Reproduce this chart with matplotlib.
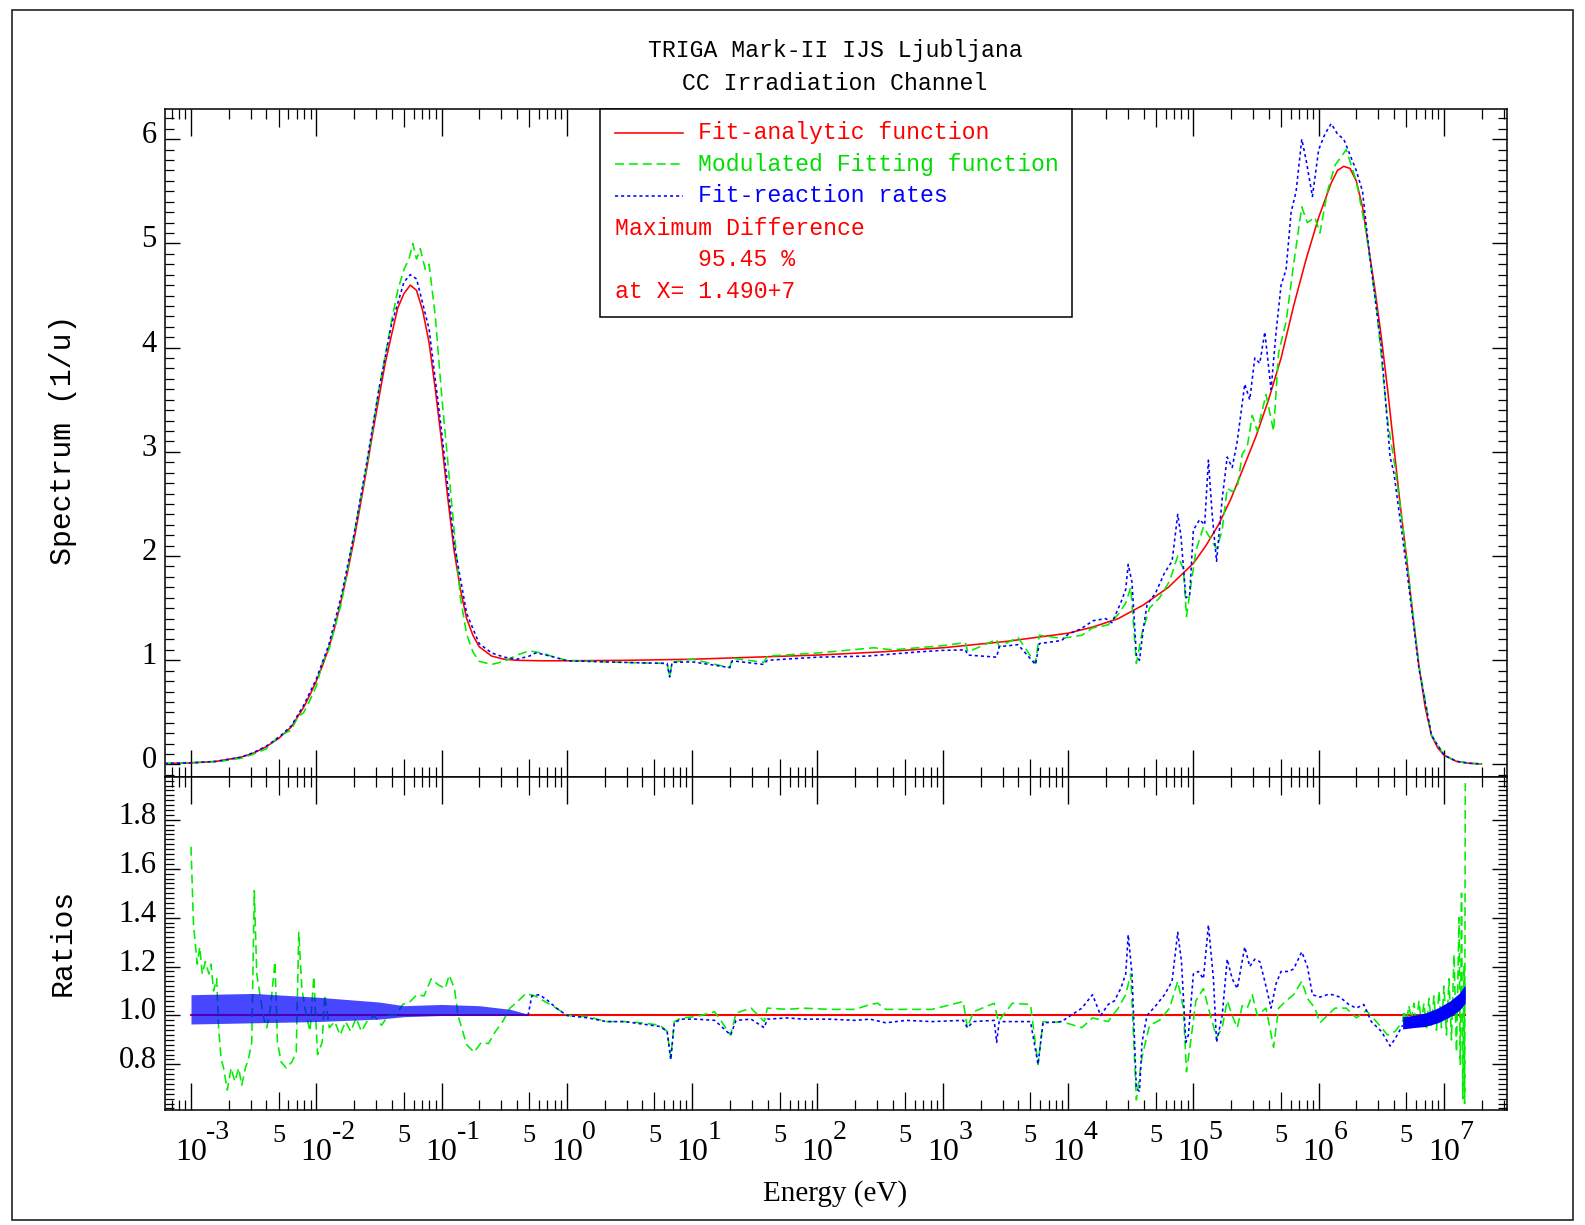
import numpy as np
import matplotlib
matplotlib.use("Agg")
import matplotlib.pyplot as plt
from matplotlib.ticker import FixedLocator, FixedFormatter, NullFormatter
from matplotlib.transforms import ScaledTranslation
from matplotlib.lines import Line2D
from matplotlib.patches import Rectangle

plt.rcParams['lines.scale_dashes'] = False

# ---------------- data (x given as log10 of energy in eV) ----------------
red_top_logE = [-3.21, -3.0, -2.8, -2.6, -2.5, -2.4, -2.3, -2.2, -2.1, -2.05,
                -2.0, -1.95, -1.9, -1.85, -1.8, -1.75, -1.7, -1.65, -1.6, -1.55,
                -1.5, -1.45, -1.4, -1.35, -1.3, -1.25, -1.2, -1.15, -1.1, -1.05,
                -1.0, -0.95, -0.9, -0.85, -0.8, -0.75, -0.7, -0.6, -0.5, -0.4,
                -0.2, 0.0, 0.5, 1.0, 1.5, 2.0, 2.5, 3.0, 3.5, 4.0,
                4.2, 4.4, 4.6, 4.8, 5.0, 5.1, 5.2, 5.3, 5.4, 5.5,
                5.6, 5.7, 5.8, 5.9, 6.0, 6.1, 6.15, 6.2, 6.25, 6.3,
                6.35, 6.4, 6.45, 6.5, 6.55, 6.6, 6.65, 6.7, 6.75, 6.8,
                6.85, 6.9, 6.95, 7.0, 7.1, 7.2, 7.3]
red_top = [0.01, 0.015, 0.03, 0.07, 0.11, 0.17, 0.25, 0.36, 0.55, 0.67,
           0.80, 0.95, 1.12, 1.33, 1.58, 1.85, 2.15, 2.48, 2.82, 3.18,
           3.52, 3.85, 4.12, 4.38, 4.52, 4.60, 4.55, 4.35, 4.05, 3.60,
           3.10, 2.55, 2.05, 1.68, 1.40, 1.24, 1.13, 1.04, 1.01, 1.0,
           0.995, 0.995, 1.0, 1.01, 1.03, 1.05, 1.08, 1.12, 1.18, 1.26,
           1.32, 1.40, 1.53, 1.70, 1.93, 2.10, 2.30, 2.55, 2.85, 3.15,
           3.50, 3.90, 4.40, 4.85, 5.25, 5.58, 5.70, 5.74, 5.72, 5.60,
           5.35, 4.95, 4.55, 4.10, 3.60, 3.05, 2.50, 2.00, 1.45, 0.95,
           0.55, 0.28, 0.16, 0.09, 0.03, 0.012, 0.005]

green_top_logE = [-3.21, -3.0, -2.8, -2.6, -2.5, -2.4, -2.3, -2.2, -2.15, -2.1,
                  -2.05, -2.0, -1.95, -1.9, -1.8, -1.7, -1.6, -1.5, -1.4, -1.35,
                  -1.3, -1.26, -1.23, -1.2, -1.17, -1.13, -1.1, -1.05, -1.0, -0.95,
                  -0.9, -0.85, -0.8, -0.75, -0.7, -0.6, -0.5, -0.4, -0.3, -0.2,
                  -0.1, 0.0, 0.3, 0.6, 0.8, 0.82, 0.84, 1.0, 1.3, 1.32,
                  1.57, 1.6, 2.0, 2.45, 2.6, 3.0, 3.18, 3.2, 3.43, 3.45,
                  3.6, 3.74, 3.77, 3.95, 4.11, 4.195, 4.32, 4.40, 4.46, 4.50,
                  4.545, 4.59, 4.65, 4.73, 4.81, 4.875, 4.92, 4.945, 4.98, 5.02,
                  5.08, 5.12, 5.185, 5.23, 5.27, 5.31, 5.35, 5.39, 5.43, 5.47,
                  5.51, 5.58, 5.64, 5.68, 5.74, 5.80, 5.865, 5.91, 5.97, 6.01,
                  6.07, 6.13, 6.22, 6.30, 6.38, 6.46, 6.55, 6.61, 6.67, 6.8,
                  6.9, 7.0, 7.1, 7.2, 7.3]
green_top = [0.01, 0.02, 0.025, 0.06, 0.10, 0.15, 0.27, 0.33, 0.45, 0.50,
             0.62, 0.75, 0.98, 1.10, 1.55, 2.20, 2.85, 3.60, 4.25, 4.55,
             4.75, 4.85, 5.00, 4.85, 4.95, 4.75, 4.80, 4.30, 3.55, 2.90,
             2.25, 1.60, 1.25, 1.08, 0.99, 0.96, 0.99, 1.05, 1.09, 1.07,
             1.03, 1.00, 0.985, 0.975, 0.97, 0.84, 0.98, 1.01, 0.93, 1.02,
             0.98, 1.04, 1.07, 1.12, 1.10, 1.14, 1.17, 1.08, 1.20, 1.13,
             1.22, 0.97, 1.24, 1.21, 1.24, 1.31, 1.34, 1.44, 1.55, 1.70,
             0.97, 1.26, 1.50, 1.60, 1.76, 2.00, 1.88, 1.42, 1.72, 2.05,
             2.28, 2.20, 2.07, 2.25, 2.65, 2.62, 2.65, 2.98, 3.05, 3.35,
             3.20, 3.55, 3.20, 3.95, 4.25, 4.80, 5.35, 5.20, 5.25, 5.10,
             5.50, 5.75, 5.90, 5.60, 5.10, 4.40, 3.30, 2.85, 2.30, 0.95,
             0.28, 0.09, 0.03, 0.012, 0.005]

blue_top_logE = [-3.21, -3.0, -2.8, -2.6, -2.5, -2.4, -2.3, -2.2, -2.1, -2.0,
                 -1.9, -1.8, -1.7, -1.6, -1.5, -1.4, -1.3, -1.25, -1.2, -1.1,
                 -1.0, -0.9, -0.8, -0.7, -0.6, -0.5, -0.4, -0.3, -0.25, -0.2,
                 -0.1, 0.0, 0.3, 0.6, 0.8, 0.82, 0.84, 1.0, 1.3, 1.32,
                 1.57, 1.6, 2.0, 2.4, 2.8, 3.0, 3.18, 3.2, 3.43, 3.45,
                 3.6, 3.74, 3.77, 3.95, 4.0, 4.1, 4.2, 4.3, 4.35, 4.42,
                 4.46, 4.48, 4.51, 4.545, 4.57, 4.6, 4.63, 4.7, 4.77, 4.83,
                 4.875, 4.9, 4.94, 4.97, 5.0, 5.05, 5.09, 5.12, 5.15, 5.185,
                 5.23, 5.27, 5.31, 5.35, 5.41, 5.45, 5.49, 5.53, 5.57, 5.62,
                 5.66, 5.70, 5.74, 5.78, 5.82, 5.865, 5.9, 5.95, 6.0, 6.05,
                 6.1, 6.15, 6.2, 6.25, 6.3, 6.35, 6.4, 6.5, 6.57, 6.6,
                 6.7, 6.8, 6.9, 7.0, 7.1, 7.2, 7.3]
blue_top = [0.01, 0.015, 0.03, 0.07, 0.115, 0.175, 0.26, 0.37, 0.57, 0.82,
            1.15, 1.62, 2.20, 2.88, 3.60, 4.22, 4.63, 4.70, 4.66, 4.18,
            3.20, 2.12, 1.45, 1.16, 1.07, 1.03, 1.01, 1.04, 1.07, 1.06,
            1.03, 0.995, 0.985, 0.975, 0.97, 0.84, 0.98, 0.985, 0.93, 0.995,
            0.96, 1.00, 1.03, 1.04, 1.08, 1.095, 1.10, 1.05, 1.03, 1.13,
            1.15, 0.96, 1.16, 1.19, 1.25, 1.30, 1.38, 1.40, 1.36, 1.55,
            1.68, 1.92, 1.75, 1.05, 1.00, 1.30, 1.53, 1.65, 1.84, 1.95,
            2.40, 2.20, 1.60, 1.62, 2.25, 2.35, 2.30, 2.92, 2.40, 1.95,
            2.55, 2.95, 2.85, 3.10, 3.65, 3.50, 3.90, 3.85, 4.15, 3.60,
            4.15, 4.60, 4.75, 5.30, 5.50, 6.00, 5.80, 5.45, 5.90, 6.05,
            6.15, 6.05, 6.00, 5.85, 5.70, 5.50, 4.95, 4.00, 2.95, 2.80,
            1.90, 0.92, 0.28, 0.09, 0.03, 0.012, 0.005]

red_ratio_logE = [-3.0, 7.17]
red_ratio = [1.0, 1.0]

green_ratio_logE = [-3.0, -2.98, -2.95, -2.93, -2.91, -2.886, -2.857, -2.84, -2.82, -2.795,
                    -2.78, -2.76, -2.74, -2.71, -2.68, -2.65, -2.62, -2.595, -2.566, -2.54,
                    -2.515, -2.495, -2.475, -2.45, -2.42, -2.395, -2.366, -2.33, -2.31, -2.28,
                    -2.24, -2.195, -2.16, -2.14, -2.115, -2.08, -2.05, -2.02, -1.99, -1.953,
                    -1.933, -1.896, -1.853, -1.81, -1.767, -1.725, -1.682, -1.64, -1.596, -1.54,
                    -1.48, -1.425, -1.37, -1.31, -1.254, -1.197, -1.14, -1.083, -1.026, -0.97,
                    -0.94, -0.897, -0.869, -0.84, -0.80, -0.74, -0.683, -0.626, -0.57, -0.512,
                    -0.455, -0.398, -0.327, -0.255, -0.17, -0.084, 0.0, 0.17, 0.315, 0.458,
                    0.60, 0.743, 0.80, 0.829, 0.857, 0.914, 1.03, 1.18, 1.307, 1.35,
                    1.47, 1.575, 1.6, 1.76, 1.885, 2.09, 2.30, 2.42, 2.48, 2.545,
                    2.71, 2.915, 3.163, 3.196, 3.245, 3.41, 3.444, 3.555, 3.70, 3.76,
                    3.80, 3.865, 3.947, 4.11, 4.195, 4.32, 4.40, 4.46, 4.50, 4.545,
                    4.59, 4.65, 4.73, 4.81, 4.875, 4.92, 4.945, 4.98, 5.02, 5.08,
                    5.12, 5.185, 5.23, 5.27, 5.31, 5.35, 5.39, 5.43, 5.47, 5.51,
                    5.58, 5.64, 5.68, 5.74, 5.80, 5.865, 5.91, 5.97, 6.01, 6.07,
                    6.13, 6.22, 6.30, 6.38, 6.46, 6.55, 6.61, 6.67, 6.68, 6.70,
                    6.72, 6.74, 6.76, 6.78, 6.80, 6.82, 6.84, 6.86, 6.88, 6.90,
                    6.92, 6.94, 6.96, 6.98, 7.00, 7.02, 7.04, 7.06, 7.08, 7.10,
                    7.12, 7.13, 7.14, 7.15, 7.16, 7.165, 7.17]
green_ratio = [1.69, 1.37, 1.21, 1.28, 1.17, 1.22, 1.17, 1.21, 1.10, 1.15,
               0.95, 0.825, 0.785, 0.695, 0.785, 0.73, 0.785, 0.715, 0.785, 0.825,
               0.89, 1.51, 1.17, 1.085, 0.99, 0.95, 1.03, 1.22, 0.89, 0.81,
               0.785, 0.81, 0.85, 1.34, 1.11, 1.0, 0.935, 1.16, 0.84, 0.89,
               1.085, 0.95, 0.975, 0.92, 0.975, 0.935, 0.99, 0.935, 0.975, 1.0,
               0.96, 1.0, 1.0, 1.045, 1.055, 1.085, 1.08, 1.15, 1.125, 1.11,
               1.165, 1.11, 1.0, 0.95, 0.88, 0.85, 0.89, 0.885, 0.935, 0.975,
               1.03, 1.055, 1.09, 1.08, 1.055, 1.03, 1.0, 0.995, 0.975, 0.975,
               0.97, 0.96, 0.935, 0.825, 0.975, 0.99, 0.995, 1.015, 0.92, 1.01,
               1.03, 0.975, 1.03, 1.025, 1.03, 1.025, 1.025, 1.045, 1.05, 1.025,
               1.025, 1.025, 1.057, 0.95, 1.015, 1.05, 0.975, 1.05, 1.045, 0.80,
               0.975, 0.97, 0.975, 0.95, 0.99, 0.975, 1.03, 1.085, 1.17, 0.655,
               0.83, 0.96, 0.98, 1.03, 1.14, 1.03, 0.77, 0.90, 1.06, 1.11,
               1.03, 0.91, 0.95, 1.06, 1.0, 0.95, 1.04, 1.03, 1.085, 1.0,
               1.03, 0.87, 1.03, 1.06, 1.085, 1.14, 1.07, 1.03, 0.97, 1.0,
               1.03, 1.03, 0.99, 1.02, 0.975, 0.92, 0.935, 0.975, 1.02, 0.97,
               1.04, 0.98, 1.05, 0.96, 1.06, 0.97, 1.05, 0.95, 1.07, 0.96,
               1.08, 0.94, 1.10, 0.95, 1.12, 0.92, 1.15, 0.90, 1.25, 0.85,
               1.40, 0.80, 1.50, 0.66, 1.20, 0.64, 1.95]

blue_ratio_logE = [-0.31, -0.28, -0.22, -0.15, -0.084, 0.0, 0.17, 0.315, 0.458, 0.60,
                   0.743, 0.80, 0.829, 0.857, 0.914, 1.03, 1.18, 1.307, 1.35, 1.47,
                   1.575, 1.6, 1.76, 1.885, 2.09, 2.30, 2.42, 2.545, 2.71, 2.915,
                   3.163, 3.196, 3.245, 3.41, 3.43, 3.45, 3.555, 3.70, 3.76, 3.80,
                   3.947, 4.11, 4.195, 4.26, 4.32, 4.37, 4.42, 4.46, 4.48, 4.51,
                   4.545, 4.57, 4.59, 4.63, 4.70, 4.77, 4.83, 4.875, 4.905, 4.94,
                   4.96, 5.0, 5.04, 5.08, 5.12, 5.16, 5.185, 5.23, 5.27, 5.31,
                   5.35, 5.41, 5.45, 5.49, 5.53, 5.57, 5.62, 5.66, 5.70, 5.76,
                   5.80, 5.865, 5.91, 5.95, 6.01, 6.07, 6.11, 6.17, 6.24, 6.30,
                   6.36, 6.42, 6.50, 6.57, 6.61, 6.67]
blue_ratio = [1.0, 1.08, 1.085, 1.06, 1.03, 1.0, 0.99, 0.975, 0.975, 0.965,
              0.955, 0.935, 0.82, 0.97, 0.985, 0.985, 0.98, 0.92, 0.98, 0.985,
              0.95, 0.985, 0.99, 0.985, 0.985, 0.98, 0.985, 0.97, 0.98, 0.975,
              0.98, 0.95, 0.975, 0.98, 0.89, 0.975, 0.975, 0.975, 0.80, 0.97,
              0.975, 1.03, 1.085, 1.0, 1.045, 1.06, 1.11, 1.17, 1.33, 1.17,
              0.70, 0.69, 0.89, 1.0, 1.04, 1.085, 1.14, 1.34, 1.22, 0.89,
              0.92, 1.17, 1.18, 1.15, 1.37, 1.15, 0.89, 1.0, 1.23, 1.15,
              1.11, 1.28, 1.20, 1.23, 1.22, 1.14, 1.03, 1.13, 1.18, 1.18,
              1.19, 1.26, 1.20, 1.085, 1.075, 1.085, 1.085, 1.075, 1.045, 1.03,
              1.045, 0.975, 0.935, 0.875, 0.905, 0.96]

# envelopes of the dense blue oscillation bands in the ratio panel
blue_band_low_logE = [-3.0, -2.5, -2.0, -1.5, -1.3, -1.0, -0.7, -0.45, -0.31]
blue_band_low_lo = [0.965, 0.97, 0.975, 0.985, 0.995, 1.0, 1.0, 1.0, 1.0]
blue_band_low_hi = [1.085, 1.09, 1.075, 1.055, 1.04, 1.045, 1.04, 1.025, 1.005]
blue_band_high_logE = [6.67, 6.75, 6.85, 6.95, 7.05, 7.12, 7.17]
blue_band_high_lo = [0.945, 0.95, 0.955, 0.97, 0.995, 1.02, 1.05]
blue_band_high_hi = [0.995, 1.0, 1.01, 1.03, 1.06, 1.09, 1.125]

decade_exponents = [-3, -2, -1, 0, 1, 2, 3, 4, 5, 6, 7]
legend_labels = ["Fit-analytic function", "Modulated Fitting function", "Fit-reaction rates"]
legend_notes = ["Maximum Difference", "95.45 %", "at X= 1.490+7"]
title_lines = ["TRIGA Mark-II IJS Ljubljana", "CC Irradiation Channel"]

# ---------------- figure ----------------
W, H = 1585, 1225
fig = plt.figure(figsize=(W / 100, H / 100), dpi=100, facecolor='white')


def fx(px):
    return px / W


def fy(py):
    return 1 - py / H


L, R, T, MID, B = 165, 1507, 109, 777, 1110
ax1 = fig.add_axes([fx(L), fy(MID), fx(R) - fx(L), fy(T) - fy(MID)])
ax2 = fig.add_axes([fx(L), fy(B), fx(R) - fx(L), fy(MID) - fy(B)])

RED, GREEN, BLUE = '#ff0000', '#00ee00', '#0000ff'
GDASH = (0, (6.5, 3.5))
BDOT = (0, (2.2, 2.2))
LW = 1.15

E = lambda lg: 10.0 ** np.asarray(lg, dtype=float)

ax1.plot(E(red_top_logE), red_top, color=RED, lw=LW, zorder=3)
ax1.plot(E(green_top_logE), green_top, color=GREEN, lw=LW, linestyle=GDASH, zorder=4)
ax1.plot(E(blue_top_logE), blue_top, color=BLUE, lw=LW, linestyle=BDOT, zorder=5)

ax2.plot(E(red_ratio_logE), red_ratio, color=RED, lw=1.5, zorder=3)
ax2.plot(E(green_ratio_logE), green_ratio, color=GREEN, lw=LW, linestyle=GDASH, zorder=4)
ax2.fill_between(E(blue_band_low_logE), blue_band_low_lo, blue_band_low_hi,
                 color=BLUE, alpha=0.72, lw=0, zorder=5)
ax2.plot(E(blue_ratio_logE), blue_ratio, color=BLUE, lw=LW, linestyle=BDOT, zorder=5)
ax2.fill_between(E(blue_band_high_logE), blue_band_high_lo, blue_band_high_hi,
                 color=BLUE, lw=0, zorder=5)

# ---------------- axes styling ----------------
xmin, xmax = 10 ** -3.2075, 10 ** 7.503
decades = [10.0 ** k for k in decade_exponents]
minors = [m * 10.0 ** k for k in range(-4, 8) for m in range(2, 10)
          if xmin <= m * 10.0 ** k <= xmax]
minor_labels = ['5' if abs(v / 10 ** np.floor(np.log10(v)) - 5) < 1e-6 else '' for v in minors]

for ax in (ax1, ax2):
    ax.set_xscale('log')
    ax.set_xlim(xmin, xmax)
    ax.xaxis.set_major_locator(FixedLocator(decades))
    ax.xaxis.set_minor_locator(FixedLocator(minors))
    for s in ax.spines.values():
        s.set_linewidth(1.1)
    ax.set_facecolor('white')

ax1.set_ylim(-0.12, 6.29)
ax1.yaxis.set_major_locator(FixedLocator(list(range(0, 7))))
ax1.yaxis.set_minor_locator(FixedLocator([i / 10 for i in range(-1, 63)]))
ax1.yaxis.set_major_formatter(FixedFormatter([str(i) for i in range(0, 7)]))
ax1.xaxis.set_major_formatter(NullFormatter())
ax1.xaxis.set_minor_formatter(NullFormatter())

ax2.set_ylim(0.6135, 1.975)
r_major = [0.8, 1.0, 1.2, 1.4, 1.6, 1.8]
ax2.yaxis.set_major_locator(FixedLocator(r_major))
ax2.yaxis.set_minor_locator(FixedLocator([0.62 + 0.02 * i for i in range(68)]))
ax2.yaxis.set_major_formatter(FixedFormatter(['%.1f' % v for v in r_major]))
ax2.xaxis.set_major_formatter(FixedFormatter(['10'] * len(decades)))
ax2.xaxis.set_minor_formatter(FixedFormatter(minor_labels))

TICKFONT = 'Liberation Serif'
for ax in (ax1, ax2):
    ax.tick_params(axis='x', which='major', direction='in', length=19.5, width=1.0,
                   top=True, bottom=True, labelsize=23, labelfontfamily=TICKFONT, pad=20)
    ax.tick_params(axis='x', which='minor', direction='in', length=7.2, width=0.9,
                   top=True, bottom=True, labelsize=19, labelfontfamily=TICKFONT, pad=10.5)
    ax.tick_params(axis='y', which='major', direction='in', length=11, width=1.0,
                   left=True, right=True, labelsize=22, labelfontfamily=TICKFONT, pad=6)
    ax.tick_params(axis='y', which='minor', direction='in', length=6.5, width=0.9,
                   left=True, right=True)

# longer ticks at 5 x 10^n
for ax in (ax1, ax2):
    locs = ax.xaxis.get_minorticklocs()
    ticks = ax.xaxis.get_minor_ticks(len(locs))
    for loc, t in zip(locs, ticks):
        if abs(loc / 10 ** np.floor(np.log10(loc)) - 5) < 1e-6:
            t.tick1line.set_markersize(13)
            t.tick2line.set_markersize(13)

# numbers sitting a bit above their y tick
for ax in (ax1, ax2):
    for lab in ax.get_yticklabels():
        lab.set_transform(lab.get_transform() + ScaledTranslation(0, 0.07, fig.dpi_scale_trans))

# exponents of the decade labels, full-size as in the original plot
for k, d in zip(decade_exponents, decades):
    ax2.annotate(str(k), xy=(d, 0), xycoords=('data', 'axes fraction'),
                 xytext=(11, -7.5), textcoords='offset points', ha='left', va='top',
                 family=TICKFONT, fontsize=20, annotation_clip=False)

# ---------------- texts ----------------
MONO = 'Liberation Mono'
fig.text(fx(835), fy(51), title_lines[0], ha='center', va='center', family=MONO, fontsize=16.7)
fig.text(fx(835), fy(83), title_lines[1], ha='center', va='center', family=MONO, fontsize=16.7)
fig.text(fx(63), fy(440), "Spectrum (1/u)", rotation=90, ha='center', va='center', family=MONO, fontsize=21.5)
fig.text(fx(63), fy(942), "Ratios", rotation=90, ha='center', va='center', family=MONO, fontsize=21.5)
fig.text(fx(835), fy(1194), "Energy (eV)", ha='center', va='center', family=TICKFONT, fontsize=21)

# legend box
fig.patches.append(Rectangle((fx(600), fy(317)), fx(1072) - fx(600), fy(109) - fy(317),
                             transform=fig.transFigure, fill=True, facecolor='white',
                             edgecolor='black', lw=1.1, zorder=10))
rows = [132.5, 164, 196]
styles = [dict(color=RED, linestyle='-'), dict(color=GREEN, linestyle=GDASH),
          dict(color=BLUE, linestyle=BDOT)]
text_cols = [RED, '#00dd00', BLUE]
for yv, st, lbl, tc in zip(rows, styles, legend_labels, text_cols):
    fig.lines.append(Line2D([fx(615), fx(683)], [fy(yv), fy(yv)], transform=fig.transFigure,
                            lw=LW, zorder=11, **st))
    fig.text(fx(698), fy(yv), lbl, ha='left', va='center', color=tc, family=MONO,
             fontsize=16.7, zorder=11)
fig.text(fx(615), fy(228.5), legend_notes[0], ha='left', va='center', color=RED, family=MONO, fontsize=16.7, zorder=11)
fig.text(fx(698), fy(260), legend_notes[1], ha='left', va='center', color=RED, family=MONO, fontsize=16.7, zorder=11)
fig.text(fx(615), fy(292), legend_notes[2], ha='left', va='center', color=RED, family=MONO, fontsize=16.7, zorder=11)

# outer frame
fig.patches.append(Rectangle((fx(12), fy(1220)), fx(1573) - fx(12), fy(10) - fy(1220),
                             transform=fig.transFigure, fill=False, edgecolor='#222222',
                             lw=1.2, zorder=0))

fig.savefig('out.png', dpi=100, facecolor='white')
